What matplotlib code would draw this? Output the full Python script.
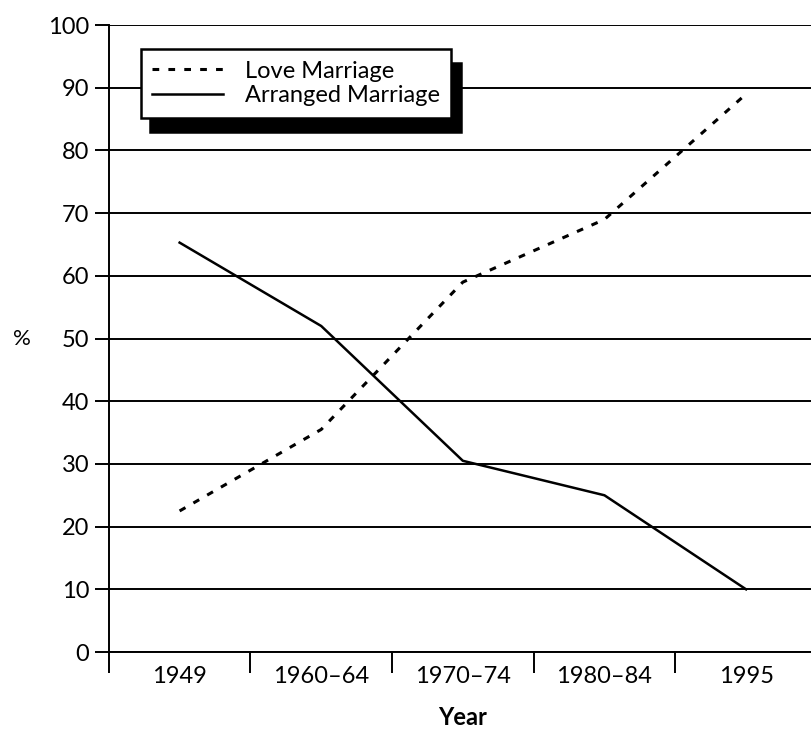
import numpy as np
import matplotlib.pyplot as plt

plt.rcParams['font.family'] = ['Lato', 'DejaVu Sans']

periods = ['1949', '1960–64', '1970–74', '1980–84', '1995']
love = [22.5, 35.5, 59, 69, 89]
arranged = [65.3, 52, 30.5, 25, 10]

fig = plt.figure(figsize=(8.12, 7.29), dpi=100)
ax = fig.add_axes([0.134, 0.1056, 0.872, 0.86])

x = np.arange(len(periods))
ax.plot(x, love, color='black', lw=2.2, linestyle=(0, (2.2, 3.0)), label='Love Marriage')
ax.plot(x, arranged, color='black', lw=1.8, label='Arranged Marriage')

ax.set_xlim(-0.5, len(periods) - 0.5)
ax.set_ylim(0, 100)
ax.set_yticks(np.arange(0, 101, 10))
ax.yaxis.grid(True, color='black', lw=1.4)
ax.set_axisbelow(True)

# x ticks sit on category boundaries, labels in the middle
ax.set_xticks(np.arange(len(periods)) - 0.5)
ax.set_xticklabels([])
ax.set_xticks(x, minor=True)
ax.set_xticklabels(periods, minor=True)
ax.tick_params(axis='x', which='major', length=15, width=1.4, direction='out', color='black')
ax.tick_params(axis='x', which='minor', length=0, pad=10, labelsize=17)
ax.tick_params(axis='y', length=10, width=1.4, pad=4, labelsize=17)

for s in ['top', 'right']:
    ax.spines[s].set_visible(False)
ax.spines['left'].set_linewidth(1.4)
ax.spines['bottom'].set_linewidth(1.4)

ax.set_ylabel('%', rotation=0, fontsize=16, va='center', ha='center')
ax.yaxis.set_label_coords(-0.123, 0.5)
ax.set_xlabel('Year', fontsize=17, fontweight='bold', va='center')
ax.xaxis.set_label_coords(0.5, -0.105)

leg = ax.legend(loc='upper left', bbox_to_anchor=(0.045, 0.962), fontsize=17,
                handlelength=3.0, handletextpad=0.9, borderpad=0.5, labelspacing=0.15,
                borderaxespad=0, fancybox=False, framealpha=1,
                shadow={'ox': 7, 'oy': -10, 'facecolor': 'black', 'edgecolor': 'black', 'alpha': 1})
leg.get_frame().set_edgecolor('black')
leg.get_frame().set_linewidth(1.8)

fig.savefig('out.png', dpi=100)
